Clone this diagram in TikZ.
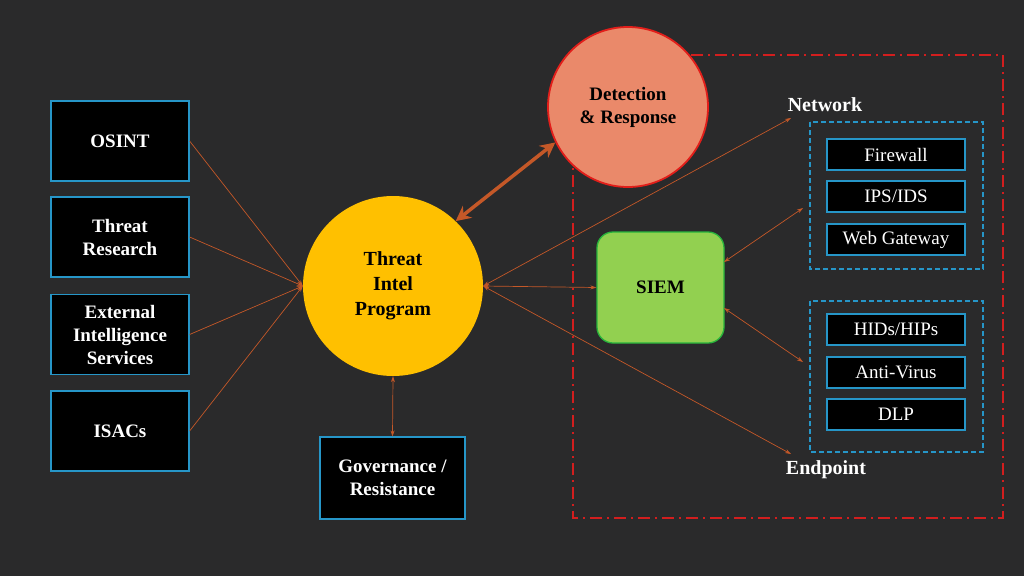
\documentclass[tikz,border=0pt]{standalone}
\usepackage{fontspec}
\setmainfont{Liberation Serif}
\usetikzlibrary{arrows.meta}
\definecolor{bg}{RGB}{42,42,43}
\definecolor{boxblue}{RGB}{38,150,200}
\definecolor{arr}{RGB}{196,88,40}
\definecolor{tipyel}{RGB}{255,192,0}
\definecolor{drfill}{RGB}{234,137,106}
\definecolor{drline}{RGB}{226,30,26}
\definecolor{siemfill}{RGB}{146,208,80}
\definecolor{siemline}{RGB}{40,180,60}
\definecolor{dashred}{RGB}{210,30,30}
\tikzset{
  srcbox/.style={draw=boxblue, line width=1.2pt, fill=black, minimum width=138pt, minimum height=80pt, text=white, font=\fontsize{19}{23}\selectfont\bfseries, align=center, inner sep=0pt},
  itembox/.style={draw=boxblue, line width=1.2pt, fill=black, minimum width=138pt, minimum height=31pt, text=white, font=\fontsize{19}{23}\selectfont, inner sep=0pt},
  thin/.style={draw=arr, line width=0.7pt, -{Stealth[length=6pt,width=4pt]}},
  thinboth/.style={draw=arr, line width=0.7pt, {Stealth[length=6pt,width=4pt]}-{Stealth[length=6pt,width=4pt]}},
  grp/.style={draw=boxblue, line width=1.2pt, dash pattern=on 5pt off 3pt},
  lbl/.style={text=white, font=\fontsize{20}{24}\selectfont\bfseries}
}
\begin{document}
\begin{tikzpicture}[x=1pt,y=-1pt]
\fill[bg] (0,0) rectangle (1024,576);
\useasboundingbox (0,0) rectangle (1024,576);
% red dashed region
\draw[dashred, line width=1.3pt, dash pattern=on 12pt off 5pt on 2pt off 5pt] (573,55) rectangle (1003,518);
% groups
\draw[grp] (810,122) rectangle (983,269);
\draw[grp] (810,301) rectangle (983,452);
% sources
\node[srcbox] (osint) at (120,141) {OSINT};
\node[srcbox] (research) at (120,237) {Threat\\Research};
\node[srcbox] (external) at (120,334.5) {External\\Intelligence\\Services};
\node[srcbox] (isacs) at (120,431) {ISACs};
% main circles
\node[circle, fill=tipyel, minimum size=180pt, inner sep=0pt, align=center, text=black, font=\fontsize{20}{25}\selectfont\bfseries] (tip) at (393,286) {Threat\\Intel\\Program};
\node[circle, fill=drfill, draw=drline, line width=1.8pt, minimum size=160pt, inner sep=0pt, align=center, text=black, font=\fontsize{19}{23}\selectfont\bfseries] (dr) at (628,107) {Detection\\\& Response};
% governance
\node[srcbox, minimum width=145pt, minimum height=82pt] (gov) at (392.5,478) {Governance /\\Resistance};
% SIEM
\node[draw=siemline, line width=1.3pt, fill=siemfill, rounded corners=16pt, minimum width=127pt, minimum height=111pt, text=black, font=\fontsize{19}{23}\selectfont\bfseries] (siem) at (660.5,287.5) {SIEM};
% items
\node[itembox] (fw) at (896,154.5) {Firewall};
\node[itembox] (ips) at (896,196.5) {IPS/IDS};
\node[itembox] (web) at (896,239.5) {Web Gateway};
\node[itembox] (hids) at (896,329.5) {HIDs/HIPs};
\node[itembox] (av) at (896,372.5) {Anti-Virus};
\node[itembox] (dlp) at (896,414.5) {DLP};
% labels
\node[lbl] (net) at (825,105) {Network};
\node[lbl] (endp) at (826,470) {Endpoint};
\coordinate (netpt) at (791,118);
\coordinate (endpt) at (791,454);
\coordinate (g1) at (803,208);
\coordinate (g2) at (803,362);
\coordinate (siemA) at (724,262);
\coordinate (siemB) at (724,308);
% connectors
\draw[thin] (osint.east) -- (tip.west);
\draw[thin] (research.east) -- (tip.west);
\draw[thin] (external.east) -- (tip.west);
\draw[thin] (isacs.east) -- (tip.west);
\draw[thinboth] (tip.south) -- (gov.north);
\draw[draw=arr, line width=3.5pt, {Stealth[length=15pt,width=15pt]}-{Stealth[length=15pt,width=15pt]}] (tip.46) -- (dr.206);
\draw[thinboth] (tip.east) -- (netpt);
\draw[thinboth] (tip.east) -- (siem.west);
\draw[thinboth] (tip.east) -- (endpt);
\draw[thinboth] (siemA) -- (g1);
\draw[thinboth] (siemB) -- (g2);
\end{tikzpicture}
\end{document}
